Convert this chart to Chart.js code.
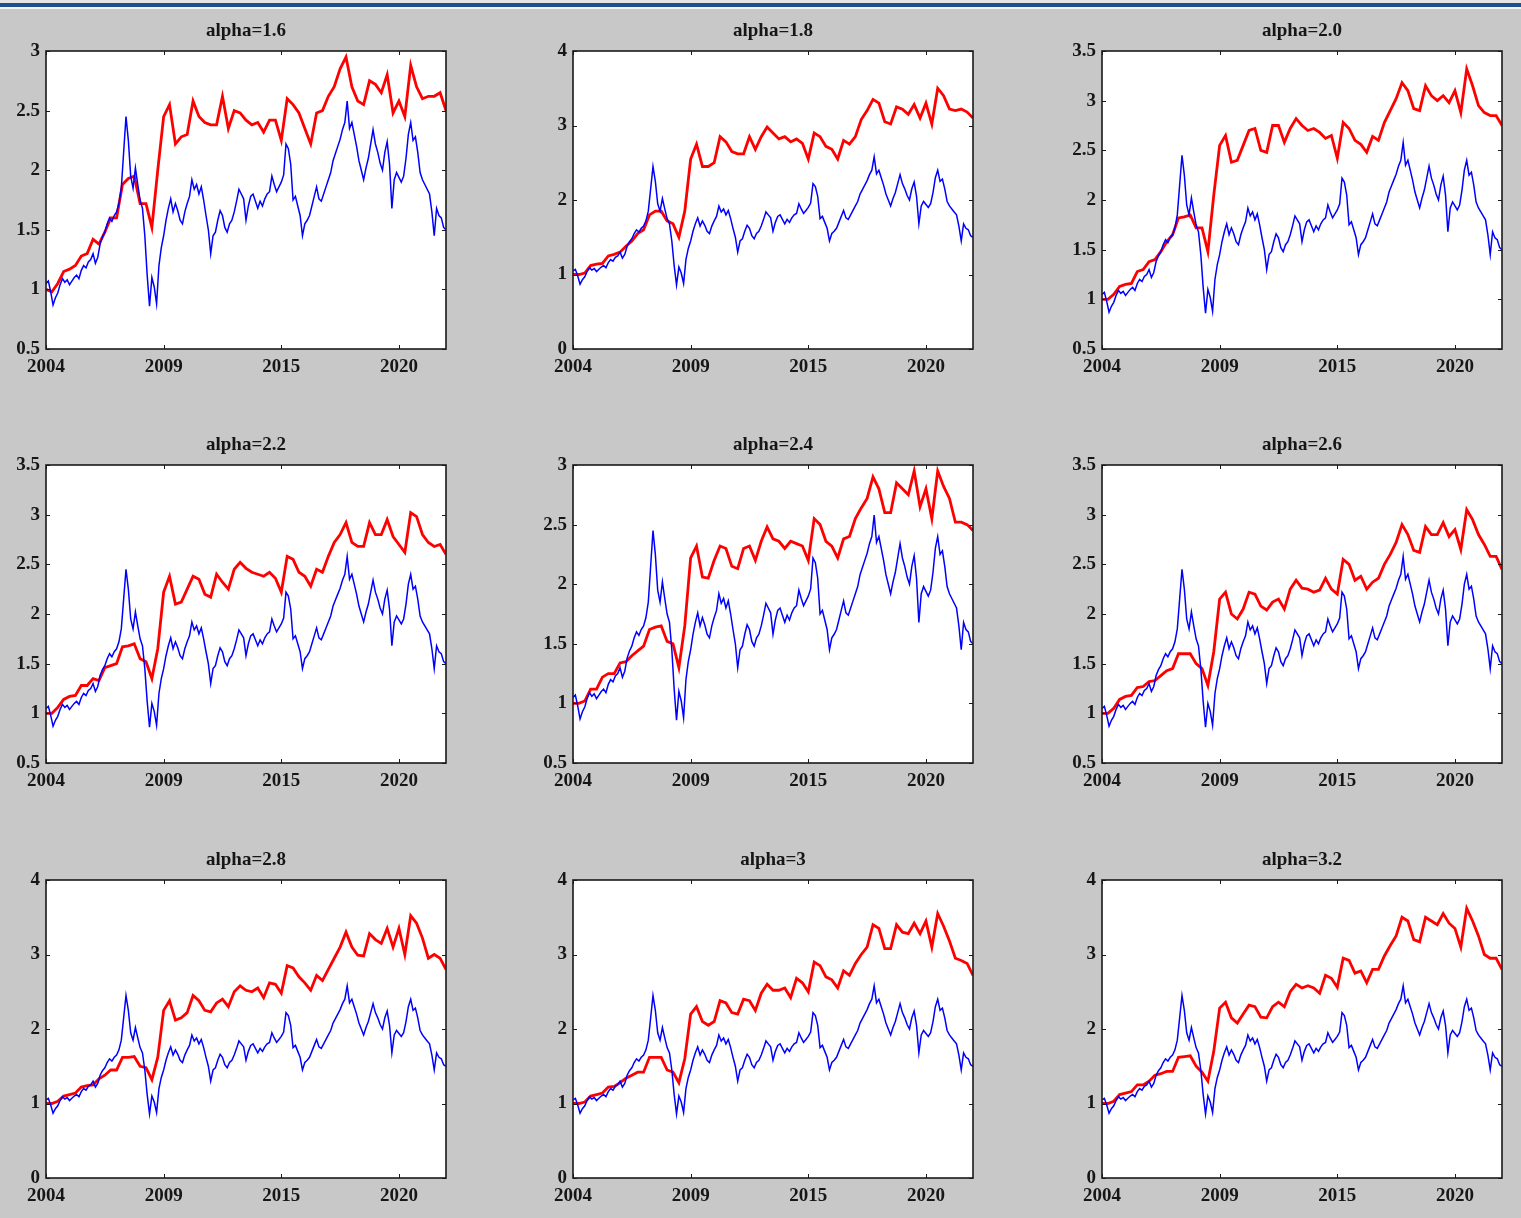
<!DOCTYPE html>
<html>
<head>
<meta charset="utf-8">
<script src="https://cdn.jsdelivr.net/npm/chart.js@4.4.1/dist/chart.umd.min.js"></script>
<style>
  html, body { margin: 0; padding: 0; width: 1521px; height: 1218px; overflow: hidden; background: #c8c8c8; }
  #bar { position: absolute; left: 0; top: 0; width: 1521px; height: 9px; background: #e4e4e4; }
  #bar div { position: absolute; left: 0; top: 3px; width: 100%; height: 4px; background: #1e4f8e; }
  #bar span { position: absolute; left: 0; top: 7px; width: 100%; height: 2px; background: #f4f4f4; }
  canvas { position: absolute; }
</style>
</head>
<body>
<div id="bar"><div></div><span></span></div>
<script>
const titles = ["alpha=1.6", "alpha=1.8", "alpha=2.0", "alpha=2.2", "alpha=2.4",
                "alpha=2.6", "alpha=2.8", "alpha=3", "alpha=3.2"];
const yMin = [0.5, 0, 0.5, 0.5, 0.5, 0.5, 0, 0, 0];
const yMax = [3, 4, 3.5, 3.5, 3, 3.5, 4, 4, 4];
const yStep = [0.5, 1, 0.5, 0.5, 0.5, 0.5, 1, 1, 1];

// x runs over a 0..340 index; ticks sit every 100
const xTickValues = [0, 100, 200, 300];
const xTickLabels = ["2004", "2009", "2015", "2020"];
const blueStep = 2;
const redStep = 5;

// the index itself (same in every panel)
const blue = [
  1.05,1.07,0.98,0.87,0.93,0.97,1.04,1.09,1.06,1.08,
  1.04,1.07,1.10,1.12,1.09,1.16,1.20,1.18,1.23,1.25,
  1.30,1.22,1.27,1.38,1.44,1.48,1.55,1.60,1.57,1.62,
  1.65,1.72,1.85,2.15,2.45,2.25,1.95,1.85,2.02,1.88,
  1.75,1.68,1.45,1.12,0.86,1.10,1.02,0.88,1.20,1.35,
  1.45,1.58,1.68,1.76,1.65,1.72,1.66,1.58,1.55,1.65,
  1.72,1.78,1.92,1.84,1.88,1.80,1.86,1.75,1.62,1.50,
  1.30,1.45,1.48,1.58,1.66,1.62,1.52,1.48,1.55,1.58,
  1.65,1.74,1.84,1.80,1.76,1.58,1.70,1.78,1.80,1.74,
  1.68,1.74,1.70,1.76,1.80,1.82,1.95,1.88,1.82,1.86,
  1.90,1.96,2.22,2.18,2.05,1.75,1.78,1.70,1.62,1.45,
  1.55,1.58,1.62,1.70,1.78,1.86,1.76,1.74,1.80,1.86,
  1.92,1.98,2.08,2.14,2.20,2.26,2.34,2.40,2.58,2.35,
  2.40,2.30,2.20,2.08,2.00,1.92,2.02,2.10,2.22,2.34,
  2.22,2.15,2.06,2.00,2.15,2.24,2.05,1.68,1.92,1.98,
  1.94,1.90,1.95,2.10,2.30,2.40,2.25,2.28,2.15,1.98,
  1.92,1.88,1.84,1.80,1.65,1.45,1.68,1.62,1.60,1.52,
  1.50
];

// strategy curves, one per alpha
const red16 = [
  1.00,0.98,1.05,1.15,1.17,1.20,1.28,1.30,1.42,1.38,
  1.48,1.60,1.60,1.88,1.93,1.95,1.72,1.72,1.52,2.00,
  2.45,2.55,2.22,2.28,2.30,2.58,2.45,2.40,2.38,2.38,
  2.62,2.35,2.50,2.48,2.42,2.38,2.40,2.32,2.42,2.42,
  2.25,2.60,2.55,2.48,2.35,2.22,2.48,2.50,2.62,2.70,
  2.85,2.95,2.70,2.58,2.55,2.75,2.72,2.65,2.80,2.48,
  2.58,2.45,2.88,2.70,2.60,2.62,2.62,2.65,2.50
];
const red18 = [
  1.00,1.00,1.02,1.12,1.14,1.15,1.25,1.27,1.30,1.38,
  1.45,1.55,1.60,1.80,1.85,1.85,1.72,1.68,1.50,1.85,
  2.55,2.75,2.45,2.45,2.50,2.85,2.78,2.65,2.62,2.62,
  2.85,2.68,2.85,2.98,2.90,2.82,2.85,2.78,2.82,2.76,
  2.55,2.90,2.85,2.72,2.68,2.55,2.80,2.75,2.85,3.08,
  3.20,3.35,3.30,3.05,3.02,3.25,3.22,3.15,3.28,3.10,
  3.30,3.02,3.50,3.40,3.22,3.20,3.22,3.18,3.10
];
const red20 = [
  1.00,1.00,1.05,1.13,1.15,1.16,1.28,1.30,1.38,1.40,
  1.48,1.58,1.65,1.82,1.83,1.85,1.72,1.72,1.48,2.05,
  2.55,2.65,2.38,2.40,2.55,2.70,2.72,2.50,2.48,2.75,
  2.75,2.58,2.72,2.82,2.75,2.70,2.72,2.68,2.62,2.65,
  2.42,2.78,2.72,2.60,2.56,2.48,2.64,2.60,2.78,2.90,
  3.02,3.18,3.10,2.92,2.90,3.15,3.05,3.00,3.05,2.98,
  3.10,2.88,3.32,3.15,2.95,2.88,2.85,2.85,2.75
];
const red22 = [
  1.00,1.00,1.06,1.14,1.17,1.18,1.28,1.28,1.35,1.33,
  1.46,1.48,1.50,1.67,1.68,1.70,1.55,1.52,1.35,1.65,
  2.22,2.38,2.10,2.12,2.25,2.38,2.35,2.20,2.17,2.40,
  2.32,2.25,2.45,2.52,2.46,2.42,2.40,2.38,2.42,2.36,
  2.22,2.58,2.55,2.42,2.38,2.28,2.45,2.42,2.58,2.72,
  2.80,2.92,2.72,2.68,2.68,2.92,2.80,2.80,2.95,2.78,
  2.70,2.62,3.02,2.98,2.80,2.72,2.68,2.70,2.60
];
const red24 = [
  1.00,1.00,1.02,1.12,1.12,1.22,1.25,1.25,1.34,1.35,
  1.40,1.44,1.48,1.62,1.64,1.65,1.52,1.50,1.30,1.65,
  2.22,2.32,2.06,2.05,2.20,2.32,2.30,2.15,2.13,2.30,
  2.32,2.20,2.36,2.48,2.38,2.36,2.30,2.36,2.34,2.32,
  2.20,2.55,2.50,2.36,2.32,2.22,2.38,2.40,2.55,2.64,
  2.72,2.90,2.80,2.60,2.60,2.85,2.80,2.75,2.95,2.65,
  2.80,2.55,2.95,2.82,2.72,2.52,2.52,2.50,2.45
];
const red26 = [
  1.00,1.00,1.05,1.14,1.17,1.18,1.26,1.27,1.32,1.33,
  1.38,1.43,1.45,1.60,1.60,1.60,1.50,1.45,1.28,1.62,
  2.15,2.22,2.00,1.95,2.05,2.22,2.20,2.08,2.04,2.12,
  2.15,2.05,2.25,2.34,2.26,2.25,2.22,2.24,2.36,2.25,
  2.20,2.55,2.50,2.34,2.38,2.25,2.32,2.36,2.50,2.60,
  2.72,2.90,2.80,2.64,2.62,2.88,2.80,2.80,2.92,2.78,
  2.85,2.65,3.05,2.95,2.80,2.70,2.58,2.58,2.45
];
const red28 = [
  1.00,1.00,1.03,1.10,1.12,1.14,1.22,1.24,1.25,1.33,
  1.38,1.45,1.45,1.62,1.62,1.63,1.50,1.48,1.32,1.62,
  2.25,2.38,2.12,2.15,2.22,2.45,2.38,2.25,2.23,2.35,
  2.40,2.30,2.50,2.58,2.52,2.50,2.55,2.42,2.62,2.60,
  2.48,2.85,2.82,2.70,2.62,2.52,2.72,2.65,2.80,2.95,
  3.10,3.30,3.10,2.99,2.98,3.28,3.20,3.15,3.35,3.10,
  3.35,3.00,3.52,3.42,3.22,2.95,3.00,2.95,2.80
];
const red30 = [
  1.00,1.00,1.02,1.10,1.12,1.14,1.22,1.23,1.28,1.34,
  1.38,1.42,1.42,1.62,1.62,1.62,1.45,1.42,1.28,1.60,
  2.20,2.30,2.10,2.05,2.10,2.38,2.35,2.22,2.20,2.40,
  2.38,2.25,2.48,2.60,2.52,2.52,2.55,2.42,2.68,2.62,
  2.50,2.90,2.85,2.70,2.66,2.55,2.78,2.72,2.88,3.00,
  3.10,3.40,3.35,3.08,3.08,3.40,3.30,3.28,3.42,3.28,
  3.45,3.10,3.55,3.38,3.18,2.95,2.92,2.88,2.72
];
const red32 = [
  1.00,1.00,1.03,1.12,1.14,1.16,1.25,1.25,1.30,1.38,
  1.40,1.43,1.43,1.62,1.63,1.64,1.50,1.42,1.30,1.70,
  2.28,2.36,2.15,2.08,2.20,2.32,2.30,2.16,2.15,2.30,
  2.36,2.30,2.50,2.60,2.55,2.58,2.55,2.48,2.72,2.68,
  2.56,2.95,2.92,2.75,2.78,2.62,2.80,2.80,2.98,3.12,
  3.25,3.50,3.45,3.20,3.17,3.50,3.45,3.40,3.55,3.42,
  3.35,3.10,3.62,3.45,3.25,3.00,2.95,2.95,2.80
];
const reds = [red16, red18, red20, red22, red24, red26, red28, red30, red32];

const colLeft = [0, 527, 1056];
const rowTop = [0, 414, 829];
const textColor = "#161616";
const serif = "'Liberation Serif', 'Times New Roman', serif";

// white plotting area behind the lines
const whiteArea = {
  id: "whiteArea",
  beforeDatasetsDraw(chart) {
    const { ctx, chartArea: a } = chart;
    ctx.save();
    ctx.fillStyle = "#ffffff";
    ctx.fillRect(a.left, a.top, a.right - a.left, a.bottom - a.top);
    ctx.restore();
  }
};

// matlab style: closed box, ticks pointing in on all four sides
const boxTicks = {
  id: "boxTicks",
  afterDatasetsDraw(chart) {
    const { ctx, chartArea: a, scales } = chart;
    const x = scales.x, y = scales.y;
    ctx.save();
    ctx.strokeStyle = "#1a1a1a";
    ctx.lineWidth = 1;
    ctx.beginPath();
    x.ticks.forEach(t => {
      const px = Math.round(x.getPixelForValue(t.value)) + 0.5;
      ctx.moveTo(px, a.bottom); ctx.lineTo(px, a.bottom - 4);
      ctx.moveTo(px, a.top); ctx.lineTo(px, a.top + 4);
    });
    y.ticks.forEach(t => {
      const py = Math.round(y.getPixelForValue(t.value)) + 0.5;
      ctx.moveTo(a.left, py); ctx.lineTo(a.left + 4, py);
      ctx.moveTo(a.right, py); ctx.lineTo(a.right - 4, py);
    });
    ctx.stroke();
    ctx.lineWidth = 1.6;
    ctx.strokeRect(a.left, a.top, a.right - a.left, a.bottom - a.top);
    ctx.restore();
  }
};

reds.forEach((red, i) => {
  const cv = document.createElement("canvas");
  cv.width = 460;
  cv.height = 380;
  cv.style.left = colLeft[i % 3] + "px";
  cv.style.top = rowTop[Math.floor(i / 3)] + "px";
  document.body.appendChild(cv);

  new Chart(cv, {
    type: "line",
    data: {
      datasets: [
        {
          data: blue.map((v, k) => ({ x: k * blueStep, y: v })),
          borderColor: "#0000ff",
          borderWidth: 1.5,
          order: 0,
        },
        {
          data: red.map((v, k) => ({ x: k * redStep, y: v })),
          borderColor: "#ff0000",
          borderWidth: 2.8,
          order: 1,
        },
      ],
    },
    options: {
      responsive: false,
      animation: false,
      events: [],
      layout: { padding: { left: 0, right: 14, top: 0, bottom: 0 } },
      elements: { point: { radius: 0 }, line: { tension: 0 } },
      plugins: {
        legend: { display: false },
        tooltip: { enabled: false },
        title: {
          display: true,
          text: titles[i],
          fullSize: false,
          color: textColor,
          font: { family: serif, size: 19, weight: "bold" },
          padding: { top: 19.2, bottom: 9 },
        },
      },
      scales: {
        x: {
          type: "linear",
          min: 0,
          max: 340,
          afterBuildTicks: s => { s.ticks = xTickValues.map(v => ({ value: v })); },
          afterFit: s => { s.height = 31; },
          grid: { display: false, drawTicks: false },
          border: { display: false },
          ticks: {
            padding: 7,
            color: textColor,
            font: { family: serif, size: 19, weight: "bold" },
            callback: (v, k) => xTickLabels[k],
          },
        },
        y: {
          min: yMin[i],
          max: yMax[i],
          afterFit: s => { s.width = 46; },
          grid: { display: false, drawTicks: false },
          border: { display: false },
          ticks: {
            stepSize: yStep[i],
            padding: 6,
            color: textColor,
            font: { family: serif, size: 19, weight: "bold" },
            callback: v => String(Math.round(v * 10) / 10),
          },
        },
      },
    },
    plugins: [whiteArea, boxTicks],
  });
});
</script>
</body>
</html>
